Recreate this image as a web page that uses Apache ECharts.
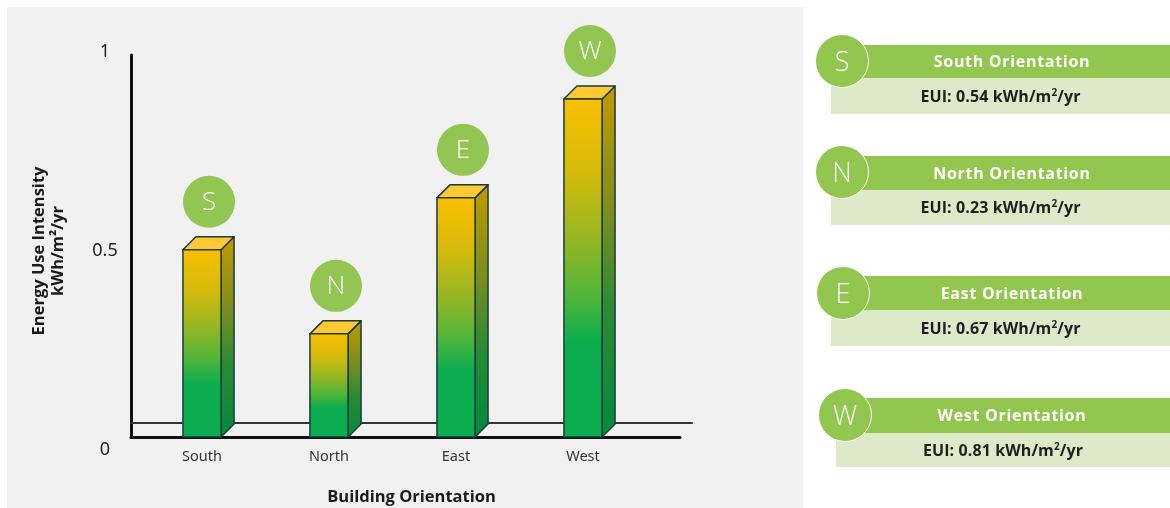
<!DOCTYPE html>
<html>
<head>
<meta charset="utf-8">
<script src="https://cdn.jsdelivr.net/npm/echarts@6/dist/echarts.min.js"></script>
<style>
  html, body { margin:0; padding:0; background:#ffffff; }
  #panel { position:absolute; left:7px; top:7px; width:796px; height:501px; background:#f1f1f1; }
  #chart { position:absolute; left:0; top:0; width:1170px; height:508px; }
  .card { position:absolute; font-family:'Open Sans', 'DejaVu Sans', sans-serif; }
  .hdr { position:absolute; background:#92c64e; color:#ffffff; font-weight:700; font-size:16px; text-align:center; letter-spacing:0.7px; }
  .bdy { position:absolute; background:#dde9c8; color:#1e1e1e; font-weight:700; font-size:16px; text-align:center; letter-spacing:0.1px; }
  .bdy sup { font-size:10px; vertical-align:6px; line-height:0; }
  .circ { position:absolute; border-radius:50%; background:#92c64e; border:1.5px solid #ffffff; color:#ffffff; font-size:27px; font-weight:300; text-align:center; box-sizing:border-box; }
</style>
</head>
<body>
<div id="panel"></div>
<div id="chart"></div>
<div id="cards"></div>
<script>
// ---- data ----
const categories = ['South', 'North', 'East', 'West'];
const letters = ['S', 'N', 'E', 'W'];
const barValues = [0.49, 0.27, 0.626, 0.885];          // bar heights as drawn on the chart
const euiValues = ['0.54', '0.23', '0.67', '0.81'];      // values printed in the cards
const cardTitles = ['South Orientation', 'North Orientation', 'East Orientation', 'West Orientation'];
const yTicks = [0, 0.5, 1];

// ---- layout (not data) ----
const cardLayout = [
  { top: 45, hdrH: 33, bdyH: 36, bodyLeft: 831, cx: 842, cy: 61 },
  { top: 156, hdrH: 34, bdyH: 35, bodyLeft: 831, cx: 842, cy: 172 },
  { top: 276, hdrH: 34, bdyH: 36, bodyLeft: 831, cx: 843, cy: 293 },
  { top: 398, hdrH: 35, bdyH: 34, bodyLeft: 836, cx: 845, cy: 415 }
];

const cardsEl = document.getElementById('cards');
cardLayout.forEach((L, i) => {
  const hdr = document.createElement('div');
  hdr.className = 'card hdr';
  hdr.style.left = (L.cx) + 'px';
  hdr.style.top = L.top + 'px';
  hdr.style.width = (1170 - L.cx) + 'px';
  hdr.style.height = L.hdrH + 'px';
  hdr.style.lineHeight = L.hdrH + 'px';
  hdr.innerHTML = '<span style="position:relative;left:' + (1012 - (L.cx + 1170) / 2) + 'px">' + cardTitles[i] + '</span>';
  cardsEl.appendChild(hdr);
  const bdy = document.createElement('div');
  bdy.className = 'card bdy';
  bdy.style.left = L.bodyLeft + 'px';
  bdy.style.top = (L.top + L.hdrH) + 'px';
  bdy.style.width = (1170 - L.bodyLeft) + 'px';
  bdy.style.height = L.bdyH + 'px';
  bdy.style.lineHeight = L.bdyH + 'px';
  bdy.innerHTML = 'EUI: ' + euiValues[i] + ' kWh/m<sup>2</sup>/yr';
  cardsEl.appendChild(bdy);
  const c = document.createElement('div');
  c.className = 'card circ';
  const r = 27;
  c.style.left = (L.cx - r) + 'px';
  c.style.top = (L.cy - r) + 'px';
  c.style.width = (2 * r) + 'px';
  c.style.height = (2 * r) + 'px';
  c.style.lineHeight = (2 * r - 3) + 'px';
  c.textContent = letters[i];
  cardsEl.appendChild(c);
});

// ---- chart ----
const chart = echarts.init(document.getElementById('chart'), null, { renderer: 'canvas' });

const frontGrad = () => new echarts.graphic.LinearGradient(0, 0, 0, 1, [
  { offset: 0, color: '#fac000' },
  { offset: 0.22, color: '#d5ba0c' },
  { offset: 0.42, color: '#93b624' },
  { offset: 0.58, color: '#52b53a' },
  { offset: 0.72, color: '#0bad4f' },
  { offset: 1, color: '#0bad4f' }
]);
const sideGrad = () => new echarts.graphic.LinearGradient(0, 0, 0, 1, [
  { offset: 0, color: '#c49a00' },
  { offset: 0.35, color: '#7d8e1e' },
  { offset: 0.65, color: '#2a8a35' },
  { offset: 1, color: '#008a40' }
]);

function renderBar(params, api) {
  const idx = api.value(0);
  const val = api.value(1);
  const top = api.coord([idx, val]);
  const base = api.coord([idx, 0]);
  const band = api.size([1, 0])[0];
  const w = band * 0.3;
  const dx = 13, dy = 13;
  const x0 = top[0] - w / 2, x1 = top[0] + w / 2;
  const yT = top[1], yB = base[1];
  const stroke = '#1b3b3e';
  return {
    type: 'group',
    children: [
      {
        type: 'polygon',
        shape: { points: [[x1, yT], [x1 + dx, yT - dy], [x1 + dx, yB - dy], [x1, yB]] },
        style: { fill: sideGrad(), stroke: stroke, lineWidth: 1.5, lineJoin: 'round' }
      },
      {
        type: 'polygon',
        shape: { points: [[x0, yT], [x0 + dx, yT - dy], [x1 + dx, yT - dy], [x1, yT]] },
        style: { fill: '#ffc933', stroke: stroke, lineWidth: 1.5, lineJoin: 'round' }
      },
      {
        type: 'rect',
        shape: { x: x0, y: yT, width: w, height: yB - yT },
        style: { fill: frontGrad(), stroke: stroke, lineWidth: 1.5 }
      },
      {
        type: 'circle',
        shape: { cx: top[0] + 7, cy: yT - 48, r: 26 },
        style: { fill: '#92c552' }
      },
      {
        type: 'text',
        style: {
          x: top[0] + 7, y: yT - 47,
          text: letters[idx],
          fill: '#ffffff',
          font: '300 26px "Open Sans", sans-serif',
          align: 'center', verticalAlign: 'middle'
        }
      }
    ]
  };
}

const hiddenAxisBits = {
  axisTick: { show: false }, axisLabel: { show: false }, splitLine: { show: false }
};

const option = {
  animation: false,
  backgroundColor: 'transparent',
  grid: [
    { left: 131, top: 52, width: 549, height: 398, outerBoundsMode: 'none' },   // 0: tick labels + y name
    { left: 131, top: 55, width: 549, height: 382, outerBoundsMode: 'none' },   // 1: frame (thick axes)
    { left: 131, top: 55, width: 561, height: 368, outerBoundsMode: 'none' },   // 2: floor line + x name
    { left: 138.5, top: 55, width: 508, height: 382, outerBoundsMode: 'none' }  // 3: bars
  ],
  xAxis: [
    { gridIndex: 0, type: 'value', show: false, min: 0, max: 1 },
    Object.assign({ gridIndex: 1, type: 'value', min: 0, max: 1,
      axisLine: { show: true, lineStyle: { color: '#111111', width: 3 } } }, hiddenAxisBits),
    Object.assign({ gridIndex: 2, type: 'value', min: 0, max: 1,
      axisLine: { show: true, lineStyle: { color: '#333333', width: 2 } },
      name: 'Building Orientation', nameLocation: 'middle', nameGap: 66,
      nameTextStyle: { fontFamily: 'Open Sans', fontWeight: 700, fontSize: 16.5, color: '#1a1a1a' } }, hiddenAxisBits),
    { gridIndex: 3, type: 'category', data: categories,
      axisLine: { show: false }, axisTick: { show: false }, splitLine: { show: false },
      axisLabel: { margin: 12, fontFamily: 'Noto Sans', fontSize: 14.5, color: '#333333',
        formatter: v => v } }
  ],
  yAxis: [
    { gridIndex: 0, type: 'value', min: yTicks[0], max: yTicks[yTicks.length - 1], interval: 0.5,
      axisLine: { show: false }, axisTick: { show: false }, splitLine: { show: false },
      axisLabel: { margin: 26, align: 'center', fontFamily: 'Noto Sans', fontSize: 18, color: '#222222' },
      name: 'Energy Use Intensity\nkWh/m²/yr', nameLocation: 'middle', nameRotate: 90, nameGap: 63,
      nameTextStyle: { fontFamily: 'Open Sans', fontWeight: 700, fontSize: 16.5, color: '#1a1a1a', lineHeight: 19, align: 'center' } },
    Object.assign({ gridIndex: 1, type: 'value', min: 0, max: 1,
      axisLine: { show: true, lineStyle: { color: '#111111', width: 3 } } }, hiddenAxisBits),
    { gridIndex: 2, type: 'value', show: false, min: 0, max: 1 },
    { gridIndex: 3, type: 'value', show: false, min: 0, max: 1 }
  ],
  series: [
    {
      type: 'custom',
      xAxisIndex: 3, yAxisIndex: 3,
      z: 10,
      renderItem: renderBar,
      data: barValues.map((v, i) => [i, v])
    }
  ]
};
chart.setOption(option);
</script>
</body>
</html>
